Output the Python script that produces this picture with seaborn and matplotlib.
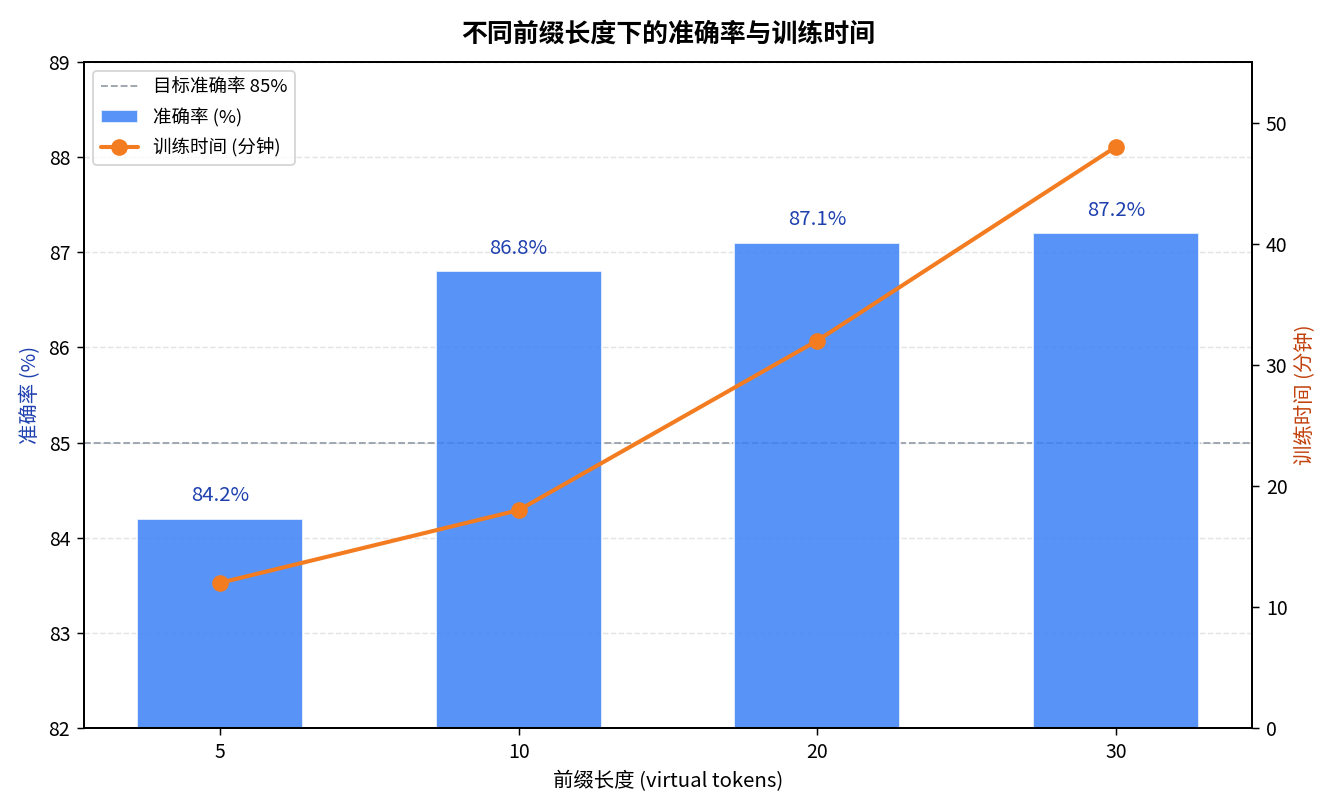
import matplotlib
matplotlib.use("Agg")
import matplotlib.pyplot as plt
import seaborn as sns
import pandas as pd

# Data
prefix_len = ["5", "10", "20", "30"]
accuracy = [84.2, 86.8, 87.1, 87.2]
train_time = [12, 18, 32, 48]
target_acc = 85

sns.set_style("white")
plt.rcParams['font.family'] = ['Noto Sans CJK SC', 'DejaVu Sans']
plt.rcParams['axes.unicode_minus'] = False
plt.rcParams['text.color'] = 'black'
plt.rcParams['axes.labelcolor'] = 'black'
plt.rcParams['xtick.color'] = 'black'
plt.rcParams['ytick.color'] = 'black'

df = pd.DataFrame({"prefix": prefix_len, "acc": accuracy, "time": train_time})

fig, ax1 = plt.subplots(figsize=(10, 6.072), dpi=133.4)
fig.subplots_adjust(left=0.063, right=0.9385, top=0.9235, bottom=0.101)

bar_color = "#3b82f6"
line_color = "#F47C20"

sns.barplot(data=df, x="prefix", y="acc", color=bar_color, width=0.555,
            saturation=1, alpha=0.85, ax=ax1, label="准确率 (%)", zorder=2)
if ax1.get_legend():
    ax1.get_legend().remove()
ax1.set_xlim(-0.455, 3.455)
ax1.set_ylim(82, 89)
ax1.set_ylabel("准确率 (%)", color="#1e40af", fontsize=11)
ax1.set_xlabel("前缀长度 (virtual tokens)", fontsize=11)
ax1.yaxis.grid(True, linestyle="--", color="#d9d9d9", alpha=0.7, zorder=0)
ax1.set_axisbelow(True)
ax1.axhline(target_acc, color="#9aa3ad", linestyle="--", linewidth=1,
            label="目标准确率 85%", zorder=1)

for i, v in enumerate(accuracy):
    ax1.text(i, v + 0.13, f"{v}%", ha="center", va="bottom",
             color="#1e40af", fontsize=11)

ax2 = ax1.twinx()
sns.lineplot(x=range(len(prefix_len)), y=train_time, color=line_color,
             marker="o", markersize=9, markeredgewidth=0, linewidth=2.2,
             ax=ax2, label="训练时间 (分钟)")
ax2.set_ylim(0, 55)
ax2.set_ylabel("训练时间 (分钟)", color="#c2410c", fontsize=11)

for ax in (ax1, ax2):
    ax.tick_params(labelsize=10.5, length=4, direction="out")
    for s in ax.spines.values():
        s.set_color("black")
        s.set_linewidth(1)
ax1.tick_params(axis="both", left=True, bottom=True)
ax2.tick_params(axis="y", right=True)

h1, l1 = ax1.get_legend_handles_labels()
h2, l2 = ax2.get_legend_handles_labels()
if ax2.get_legend():
    ax2.get_legend().remove()
order = {"目标准确率 85%": 0, "准确率 (%)": 1, "训练时间 (分钟)": 2}
pairs = sorted(zip(h1 + h2, l1 + l2), key=lambda p: order.get(p[1], 9))
ax2.legend([p[0] for p in pairs], [p[1] for p in pairs], loc="upper left",
           fontsize=10, frameon=True, edgecolor="#cccccc", labelspacing=0.6)

ax1.set_title("不同前缀长度下的准确率与训练时间", fontsize=14, fontweight="bold", pad=11)

fig.savefig("out.png", dpi=133.4)
